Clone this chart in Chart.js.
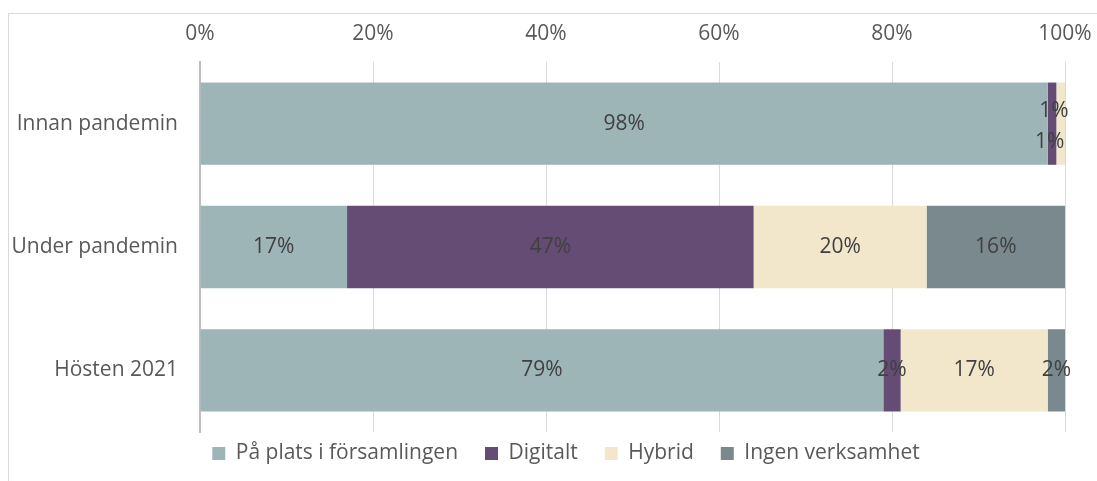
<!DOCTYPE html>
<html>
<head>
<meta charset="utf-8">
<script src="https://cdn.jsdelivr.net/npm/chart.js@4"></script>
<style>
  html, body { margin: 0; padding: 0; background: #ffffff; }
  canvas { display: block; }
</style>
</head>
<body>
<canvas id="c" width="1097" height="481"></canvas>
<script>
const categories = ['Innan pandemin', 'Under pandemin', 'Hösten 2021'];
const seriesNames = ['På plats i församlingen', 'Digitalt', 'Hybrid', 'Ingen verksamhet'];
const paPlats = [98, 17, 79];
const digitalt = [1, 47, 2];
const hybrid = [1, 20, 17];
const ingen = [0, 16, 2];
const xTicks = [0, 20, 40, 60, 80, 100];

const colors = ['#9EB5B8', '#654C74', '#F2E7CB', '#7A898D'];
const FONT = 'Open Sans';
const FS = 21;
const TEXT = '#595959';

// manual label offsets: "datasetIndex-categoryIndex" -> [dx, dy]
const labelOffsets = { '1-0': [2, -13], '2-0': [-11, 18] };

const frame = {
  id: 'frame',
  beforeDraw(chart) {
    const ctx = chart.ctx;
    ctx.save();
    ctx.strokeStyle = '#d9d9d9';
    ctx.lineWidth = 1;
    ctx.strokeRect(8.5, 13.5, 1200, 600);
    ctx.restore();
    // position the legend row like the reference
    const lg = chart.legend;
    if (lg) {
      const dx = 566 - (lg.left + lg.right) / 2;
      lg.left += dx; lg.right += dx;
      const dy = 416 - lg.top;
      lg.top += dy; lg.bottom += dy;
    }
  }
};

const valueLabels = {
  id: 'valueLabels',
  afterDatasetsDraw(chart) {
    const ctx = chart.ctx;
    ctx.save();
    ctx.font = FS + 'px "' + FONT + '"';
    ctx.fillStyle = '#404040';
    ctx.textAlign = 'center';
    ctx.textBaseline = 'middle';
    chart.data.datasets.forEach((ds, di) => {
      const meta = chart.getDatasetMeta(di);
      meta.data.forEach((el, i) => {
        const v = ds.data[i];
        if (!v) return;
        const off = labelOffsets[di + '-' + i] || [0, 0];
        const cx = (el.x + el.base) / 2 + off[0];
        ctx.fillText(v + '%', cx, el.y + off[1]);
      });
    });
    ctx.restore();
  }
};

const seriesData = [paPlats, digitalt, hybrid, ingen];

new Chart(document.getElementById('c'), {
  type: 'bar',
  data: {
    labels: categories,
    datasets: seriesNames.map((n, k) => ({
      label: n,
      data: seriesData[k],
      backgroundColor: colors[k],
      borderWidth: 0,
      barPercentage: 0.667,
      categoryPercentage: 1
    }))
  },
  options: {
    indexAxis: 'y',
    responsive: false,
    animation: false,
    layout: { padding: { left: 0, right: 32, top: 0, bottom: -9 } },
    scales: {
      x: {
        position: 'top',
        stacked: true,
        min: 0,
        max: 100,
        afterBuildTicks(scale) { scale.ticks = xTicks.map(v => ({ value: v })); },
        afterFit(scale) { scale.height = 62; scale.paddingLeft = 0; scale.paddingRight = 0; },
        ticks: {
          callback: v => v + '%',
          font: { family: FONT, size: FS },
          color: TEXT,
          padding: 15
        },
        grid: { color: '#d9d9d9', lineWidth: 1, drawTicks: false },
        border: { display: false }
      },
      y: {
        stacked: true,
        afterFit(scale) { scale.width = 200; },
        ticks: {
          font: { family: FONT, size: FS },
          color: TEXT,
          padding: 22
        },
        grid: { display: false, drawTicks: false },
        border: { display: true, color: '#bfbfbf', width: 2 }
      }
    },
    plugins: {
      legend: {
        position: 'bottom',
        labels: {
          font: { family: FONT, size: FS },
          color: TEXT,
          boxWidth: 13,
          boxHeight: 13,
          padding: 27
        }
      },
      tooltip: { enabled: false }
    }
  },
  plugins: [frame, valueLabels]
});
</script>
</body>
</html>
